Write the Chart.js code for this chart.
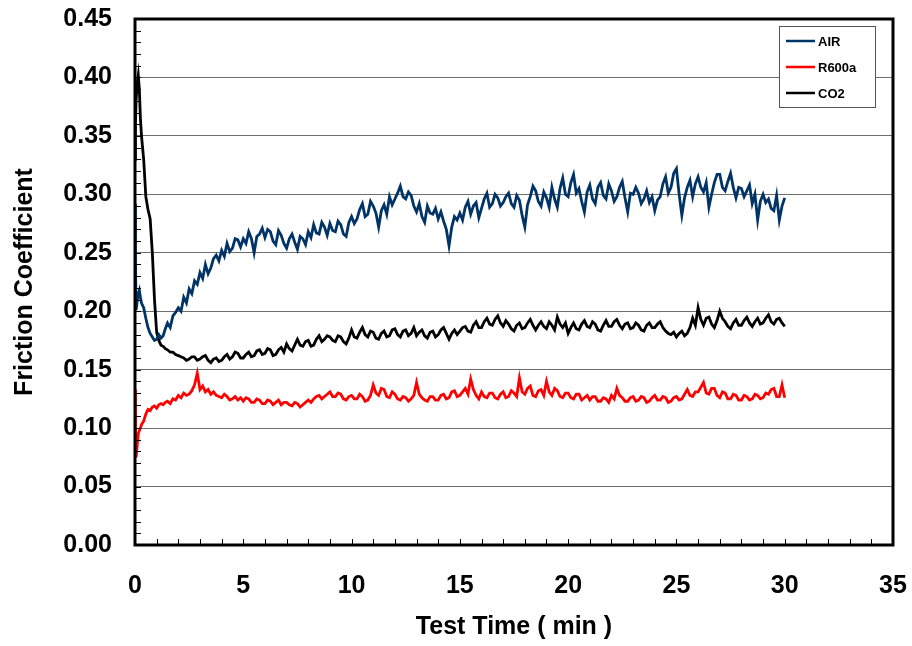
<!DOCTYPE html>
<html>
<head>
<meta charset="utf-8">
<script src="https://cdn.jsdelivr.net/npm/chart.js@4.4.1/dist/chart.umd.min.js"></script>
<style>
  html, body { margin: 0; padding: 0; background: #ffffff; }
  #wrap { width: 912px; height: 646px; }
</style>
</head>
<body>
<div id="wrap"><canvas id="c" width="912" height="646"></canvas></div>
<script>
// ---------------- DATA ----------------
const seriesNames = ["AIR", "R600a", "CO2"];
const xTitle = "Test Time ( min )";
const yTitle = "Friction Coefficient";

const timeMin = [
  0, 0.02, 0.05, 0.1, 0.15, 0.2, 0.25, 0.3, 0.4, 0.5, 0.6, 0.7, 0.8, 0.9, 1.0, 1.1, 1.2, 1.3, 1.4,
  1.5, 1.625, 1.75, 1.875,
  2, 2.125, 2.25, 2.375, 2.5, 2.625, 2.75, 2.875,
  3, 3.125, 3.25, 3.375, 3.5, 3.625, 3.75, 3.875,
  4, 4.125, 4.25, 4.375, 4.5, 4.625, 4.75, 4.875,
  5, 5.125, 5.25, 5.375, 5.5, 5.625, 5.75, 5.875,
  6, 6.125, 6.25, 6.375, 6.5, 6.625, 6.75, 6.875,
  7, 7.125, 7.25, 7.375, 7.5, 7.625, 7.75, 7.875,
  8, 8.125, 8.25, 8.375, 8.5, 8.625, 8.75, 8.875,
  9, 9.125, 9.25, 9.375, 9.5, 9.625, 9.75, 9.875,
  10, 10.125, 10.25, 10.375, 10.5, 10.625, 10.75, 10.875,
  11, 11.125, 11.25, 11.375, 11.5, 11.625, 11.75, 11.875,
  12, 12.125, 12.25, 12.375, 12.5, 12.625, 12.75, 12.875,
  13, 13.125, 13.25, 13.375, 13.5, 13.625, 13.75, 13.875,
  14, 14.125, 14.25, 14.375, 14.5, 14.625, 14.75, 14.875,
  15, 15.125, 15.25, 15.375, 15.5, 15.625, 15.75, 15.875,
  16, 16.125, 16.25, 16.375, 16.5, 16.625, 16.75, 16.875,
  17, 17.125, 17.25, 17.375, 17.5, 17.625, 17.75, 17.875,
  18, 18.125, 18.25, 18.375, 18.5, 18.625, 18.75, 18.875,
  19, 19.125, 19.25, 19.375, 19.5, 19.625, 19.75, 19.875,
  20, 20.125, 20.25, 20.375, 20.5, 20.625, 20.75, 20.875,
  21, 21.125, 21.25, 21.375, 21.5, 21.625, 21.75, 21.875,
  22, 22.125, 22.25, 22.375, 22.5, 22.625, 22.75, 22.875,
  23, 23.125, 23.25, 23.375, 23.5, 23.625, 23.75, 23.875,
  24, 24.125, 24.25, 24.375, 24.5, 24.625, 24.75, 24.875,
  25, 25.125, 25.25, 25.375, 25.5, 25.625, 25.75, 25.875,
  26, 26.125, 26.25, 26.375, 26.5, 26.625, 26.75, 26.875,
  27, 27.125, 27.25, 27.375, 27.5, 27.625, 27.75, 27.875,
  28, 28.125, 28.25, 28.375, 28.5, 28.625, 28.75, 28.875,
  29, 29.125, 29.25, 29.375, 29.5, 29.625, 29.75, 29.875,
  30
];

const airCoef = [
  0.292, 0.245, 0.201, 0.208, 0.215, 0.218, 0.212, 0.207, 0.203, 0.194, 0.186, 0.181, 0.178, 0.175, 0.176, 0.180, 0.177, 0.179, 0.185,
  0.190, 0.186, 0.196, 0.199,
  0.203, 0.200, 0.212, 0.207, 0.219, 0.215, 0.226, 0.223,
  0.233, 0.228, 0.240, 0.232, 0.237, 0.245, 0.248, 0.243,
  0.252, 0.247, 0.258, 0.251, 0.254, 0.262, 0.261, 0.255,
  0.262, 0.258, 0.268, 0.262, 0.250, 0.264, 0.266, 0.271,
  0.263, 0.270, 0.268, 0.260, 0.257, 0.269, 0.265, 0.258,
  0.254, 0.262, 0.266, 0.259, 0.253, 0.264, 0.262, 0.257,
  0.268, 0.263, 0.274, 0.267, 0.266, 0.276, 0.272, 0.265,
  0.275, 0.269, 0.268, 0.277, 0.274, 0.266, 0.264, 0.276,
  0.281, 0.275, 0.279, 0.287, 0.292, 0.281, 0.283, 0.294,
  0.290, 0.284, 0.272, 0.286, 0.291, 0.283, 0.298, 0.291,
  0.296, 0.301, 0.307, 0.298, 0.296, 0.302, 0.299, 0.290,
  0.285, 0.292, 0.281, 0.276, 0.290, 0.284, 0.283, 0.288,
  0.279, 0.285, 0.277, 0.270, 0.256, 0.272, 0.281, 0.278,
  0.284, 0.278, 0.289, 0.294, 0.283, 0.290, 0.293, 0.280,
  0.288, 0.296, 0.301, 0.289, 0.292, 0.300, 0.297, 0.290,
  0.293, 0.298, 0.301, 0.292, 0.289, 0.299, 0.295, 0.282,
  0.272, 0.291, 0.298, 0.307, 0.303, 0.294, 0.290, 0.302,
  0.297, 0.289, 0.306, 0.296, 0.289, 0.305, 0.314, 0.300,
  0.298, 0.310, 0.317, 0.301, 0.305, 0.294, 0.285, 0.302,
  0.308, 0.296, 0.292, 0.306, 0.310, 0.299, 0.296, 0.309,
  0.303, 0.294, 0.298, 0.306, 0.311, 0.297, 0.285, 0.301,
  0.300, 0.306, 0.301, 0.292, 0.296, 0.303, 0.293, 0.298,
  0.286, 0.295, 0.298, 0.309, 0.315, 0.301, 0.306, 0.318,
  0.322, 0.300, 0.282, 0.297, 0.306, 0.312, 0.298, 0.309,
  0.315, 0.306, 0.302, 0.310, 0.289, 0.300, 0.310, 0.317,
  0.317, 0.306, 0.303, 0.311, 0.318, 0.306, 0.297, 0.306,
  0.305, 0.298, 0.303, 0.308, 0.292, 0.300, 0.278, 0.294,
  0.300, 0.293, 0.296, 0.288, 0.286, 0.299, 0.278, 0.290,
  0.297
];

const r600aCoef = [
  0.133, 0.100, 0.075, 0.085, 0.095, 0.098, 0.100, 0.103, 0.106, 0.112, 0.116, 0.115, 0.118, 0.119, 0.117, 0.120, 0.121, 0.120, 0.122,
  0.123, 0.121, 0.125, 0.124,
  0.128, 0.126, 0.130, 0.128, 0.129, 0.132, 0.137, 0.147,
  0.133, 0.136, 0.131, 0.133, 0.129, 0.131, 0.128, 0.127,
  0.126, 0.129, 0.127, 0.124, 0.125, 0.127, 0.124, 0.126,
  0.123, 0.126, 0.125, 0.122, 0.122, 0.125, 0.124, 0.121,
  0.121, 0.124, 0.123, 0.120, 0.122, 0.124, 0.120, 0.122,
  0.122, 0.120, 0.119, 0.122, 0.121, 0.118, 0.120, 0.122,
  0.124, 0.122, 0.125, 0.127, 0.128, 0.125, 0.127, 0.129,
  0.131, 0.127, 0.127, 0.130, 0.129, 0.125, 0.124, 0.127,
  0.128, 0.125, 0.125, 0.129, 0.127, 0.123, 0.124, 0.128,
  0.137, 0.130, 0.128, 0.134, 0.133, 0.127, 0.126, 0.131,
  0.129, 0.125, 0.124, 0.127, 0.126, 0.123, 0.125, 0.128,
  0.139, 0.129, 0.126, 0.124, 0.123, 0.127, 0.127, 0.124,
  0.124, 0.128, 0.129, 0.125, 0.126, 0.131, 0.132, 0.127,
  0.128, 0.131, 0.134, 0.129, 0.142, 0.133, 0.128, 0.125,
  0.131, 0.127, 0.126, 0.130, 0.130, 0.126, 0.125, 0.129,
  0.131, 0.126, 0.127, 0.132, 0.130, 0.127, 0.143, 0.131,
  0.129, 0.134, 0.136, 0.128, 0.127, 0.132, 0.133, 0.128,
  0.140, 0.131, 0.128, 0.134, 0.132, 0.127, 0.126, 0.130,
  0.130, 0.126, 0.125, 0.129, 0.129, 0.124, 0.126, 0.128,
  0.124, 0.127, 0.127, 0.123, 0.123, 0.126, 0.125, 0.122,
  0.128, 0.125, 0.134, 0.128, 0.126, 0.123, 0.123, 0.126,
  0.127, 0.123, 0.124, 0.127, 0.126, 0.122, 0.123, 0.126,
  0.128, 0.124, 0.124, 0.127, 0.126, 0.122, 0.123, 0.126,
  0.127, 0.124, 0.125, 0.129, 0.133, 0.128, 0.127, 0.131,
  0.131, 0.135, 0.139, 0.130, 0.129, 0.134, 0.134, 0.128,
  0.126, 0.131, 0.130, 0.125, 0.125, 0.129, 0.128, 0.124,
  0.124, 0.128, 0.127, 0.124, 0.125, 0.129, 0.128, 0.125,
  0.126, 0.130, 0.129, 0.133, 0.134, 0.127, 0.127, 0.137,
  0.126
];

const co2Coef = [
  0.330, 0.360, 0.380, 0.395, 0.402, 0.390, 0.365, 0.350, 0.330, 0.298, 0.287, 0.279, 0.250, 0.210, 0.182, 0.175, 0.171, 0.170, 0.168,
  0.167, 0.165, 0.165, 0.163,
  0.162, 0.161, 0.160, 0.158, 0.159, 0.161, 0.161, 0.158,
  0.159, 0.161, 0.162, 0.158, 0.156, 0.159, 0.160, 0.157,
  0.158, 0.161, 0.163, 0.159, 0.161, 0.165, 0.164, 0.160,
  0.160, 0.163, 0.165, 0.161, 0.162, 0.166, 0.167, 0.163,
  0.164, 0.168, 0.167, 0.162, 0.163, 0.167, 0.169, 0.165,
  0.172, 0.168, 0.166, 0.171, 0.176, 0.171, 0.170, 0.174,
  0.175, 0.170, 0.171, 0.176, 0.179, 0.174, 0.176, 0.179,
  0.178, 0.175, 0.174, 0.179, 0.178, 0.174, 0.172, 0.177,
  0.184, 0.178, 0.177, 0.182, 0.186, 0.180, 0.178, 0.183,
  0.182, 0.177, 0.176, 0.181, 0.183, 0.178, 0.179, 0.184,
  0.185, 0.180, 0.178, 0.183, 0.184, 0.179, 0.181, 0.186,
  0.179, 0.182, 0.184, 0.179, 0.177, 0.182, 0.183, 0.178,
  0.180, 0.184, 0.186, 0.181, 0.176, 0.181, 0.184, 0.180,
  0.183, 0.186, 0.187, 0.183, 0.182, 0.188, 0.191, 0.186,
  0.186, 0.191, 0.194, 0.189, 0.188, 0.193, 0.196, 0.190,
  0.187, 0.192, 0.189, 0.185, 0.183, 0.188, 0.190, 0.185,
  0.186, 0.190, 0.193, 0.188, 0.184, 0.188, 0.191, 0.187,
  0.185, 0.191, 0.188, 0.184, 0.195, 0.189, 0.186, 0.190,
  0.181, 0.186, 0.190, 0.185, 0.184, 0.189, 0.192, 0.187,
  0.186, 0.191, 0.189, 0.184, 0.183, 0.188, 0.192, 0.187,
  0.187, 0.191, 0.193, 0.188, 0.185, 0.189, 0.190, 0.185,
  0.186, 0.190, 0.188, 0.184, 0.183, 0.188, 0.190, 0.186,
  0.186, 0.189, 0.191, 0.186, 0.183, 0.181, 0.180, 0.182,
  0.178, 0.181, 0.183, 0.179, 0.181, 0.186, 0.194, 0.188,
  0.203, 0.193, 0.188, 0.194, 0.195, 0.189, 0.186, 0.192,
  0.200, 0.194, 0.191, 0.187, 0.185, 0.190, 0.193, 0.188,
  0.188, 0.192, 0.195, 0.190, 0.187, 0.191, 0.194, 0.189,
  0.190, 0.194, 0.197, 0.191, 0.189, 0.193, 0.194, 0.190,
  0.187
];

const xTickValues = [0, 5, 10, 15, 20, 25, 30, 35];
const yTickValues = [0, 0.05, 0.10, 0.15, 0.20, 0.25, 0.30, 0.35, 0.40, 0.45];

// ---------------- CHART ----------------
const FONT = "'Liberation Sans', Arial, Helvetica, sans-serif";
const seriesColors = ["#003366", "#ff0000", "#000000"];
const seriesValues = [airCoef, r600aCoef, co2Coef];

function toPoints(vals) {
  return timeMin.map((t, i) => ({ x: t, y: vals[i] }));
}

const framePlugin = {
  id: 'frameAndTicks',
  afterDatasetsDraw(chart) {
    const { ctx, chartArea: a, scales } = chart;
    const xs = scales.x, ys = scales.y;
    ctx.save();
    ctx.strokeStyle = '#000';
    ctx.lineWidth = 1;
    ctx.beginPath();
    for (let m = 0; m <= 35; m++) {
      const px = Math.round(xs.getPixelForValue(m)) + 0.5;
      ctx.moveTo(px, a.bottom);
      ctx.lineTo(px, a.bottom - 6);
    }
    for (let k = 0; k <= 45; k++) {
      const py = Math.round(ys.getPixelForValue(k / 100)) + 0.5;
      ctx.moveTo(a.left, py);
      ctx.lineTo(a.left + 6, py);
    }
    ctx.stroke();
    ctx.lineWidth = 3;
    ctx.strokeStyle = '#000';
    ctx.strokeRect(a.left, a.top, a.right - a.left, a.bottom - a.top);
    ctx.restore();
  }
};

const legendPlugin = {
  id: 'boxLegend',
  afterDraw(chart) {
    const { ctx } = chart;
    const x0 = 779, y0 = 26, w = 96, h = 81;
    ctx.save();
    ctx.fillStyle = '#fff';
    ctx.fillRect(x0, y0, w, h);
    ctx.strokeStyle = '#555';
    ctx.lineWidth = 1;
    ctx.strokeRect(x0 + 0.5, y0 + 0.5, w, h);
    ctx.font = "bold 13px " + FONT;
    ctx.textBaseline = 'middle';
    ctx.textAlign = 'left';
    chart.data.datasets.forEach((ds, i) => {
      const cy = y0 + 15 + i * 26;
      ctx.strokeStyle = ds.borderColor;
      ctx.lineWidth = 2.5;
      ctx.beginPath();
      ctx.moveTo(x0 + 7, cy);
      ctx.lineTo(x0 + 36, cy);
      ctx.stroke();
      ctx.fillStyle = '#000';
      ctx.fillText(ds.label, x0 + 39, cy + 1);
    });
    ctx.restore();
  }
};

new Chart(document.getElementById('c'), {
  type: 'line',
  data: {
    datasets: seriesNames.map((name, i) => ({
      label: name,
      data: toPoints(seriesValues[i]),
      borderColor: seriesColors[i],
      backgroundColor: seriesColors[i],
      borderWidth: 2.8,
      pointRadius: 0,
      tension: 0,
      fill: false
    }))
  },
  options: {
    responsive: false,
    animation: false,
    devicePixelRatio: 1,
    layout: { padding: { top: 19, right: 19, left: 0, bottom: 0 } },
    plugins: { legend: { display: false }, tooltip: { enabled: false } },
    scales: {
      x: {
        type: 'linear',
        min: 0, max: 35,
        afterBuildTicks(scale) { scale.ticks = xTickValues.map(v => ({ value: v })); },
        afterFit(scale) {
          scale.height = 101;
          scale.paddingLeft = 0; scale.paddingRight = 0;
          scale.paddingTop = 0; scale.paddingBottom = 0;
        },
        grid: { display: false, drawTicks: false },
        border: { display: false },
        ticks: {
          padding: 26,
          color: '#000',
          font: { family: FONT, size: 25, weight: 'bold' },
          callback: v => String(v),
          maxRotation: 0
        },
        title: {
          display: true, text: xTitle, color: '#000',
          font: { family: FONT, size: 25, weight: 'bold' },
          padding: { top: 0, bottom: 4 }
        }
      },
      y: {
        type: 'linear',
        min: 0, max: 0.45,
        afterBuildTicks(scale) { scale.ticks = yTickValues.map(v => ({ value: v })); },
        afterFit(scale) {
          scale.width = 135;
          scale.paddingTop = 0; scale.paddingBottom = 0;
          scale.paddingLeft = 0; scale.paddingRight = 0;
        },
        grid: { color: '#6e6e6e', lineWidth: 1, drawTicks: false },
        border: { display: false },
        ticks: {
          padding: 23,
          color: '#000',
          font: { family: FONT, size: 25, weight: 'bold' },
          callback: v => Number(v).toFixed(2)
        },
        title: {
          display: true, text: yTitle, color: '#000',
          font: { family: FONT, size: 25, weight: 'bold' },
          padding: { top: 10, bottom: 0 }
        }
      }
    }
  },
  plugins: [framePlugin, legendPlugin]
});
</script>
</body>
</html>
